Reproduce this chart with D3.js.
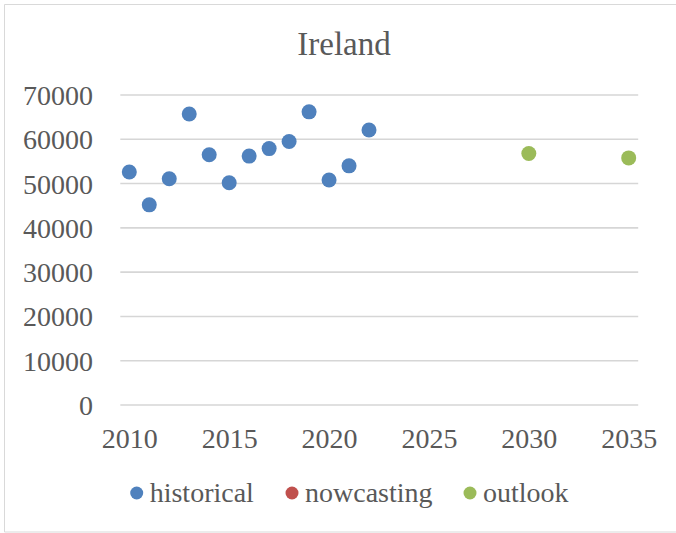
<!DOCTYPE html>
<html>
<head>
<meta charset="utf-8">
<script src="https://cdn.jsdelivr.net/npm/d3@7"></script>
<style>
  html, body { margin: 0; padding: 0; background: #fff; }
  svg { display: block; }
  text { font-family: "Liberation Serif", "DejaVu Serif", serif; fill: #595959; }
</style>
</head>
<body>
<svg id="chart" width="676" height="533"></svg>
<script>
const title = "Ireland";
const historicalYears = [2010, 2011, 2012, 2013, 2014, 2015, 2016, 2017, 2018, 2019, 2020, 2021, 2022];
const historicalValues = [52600, 45200, 51100, 65700, 56500, 50200, 56200, 57900, 59500, 66200, 50800, 54000, 62100];
const nowcastingYears = [];
const nowcastingValues = [];
const outlookYears = [2030, 2035];
const outlookValues = [56800, 55800];
const xTicks = [2010, 2015, 2020, 2025, 2030, 2035];
const yTicks = [0, 10000, 20000, 30000, 40000, 50000, 60000, 70000];
const seriesNames = ["historical", "nowcasting", "outlook"];
const seriesColors = ["#4f81bd", "#c0504d", "#9bbb59"];

const svg = d3.select("#chart");

// chart border (no right edge visible)
svg.append("path")
  .attr("d", "M680,4.5 H4.5 V532 H680")
  .attr("fill", "none")
  .attr("stroke", "#d9d9d9")
  .attr("stroke-width", 1);

const x = d3.scaleLinear().domain([2010, 2035]).range([129.3, 628.7]);
const y = d3.scaleLinear().domain([0, 70000]).range([405, 95]);
const xMin = 2009.55, xMax = 2035.475;

// title
svg.append("text")
  .attr("x", 344).attr("y", 55)
  .attr("text-anchor", "middle")
  .style("font-size", "33px")
  .text(title);

// gridlines
svg.append("g").selectAll("line").data(yTicks).join("line")
  .attr("x1", x(xMin)).attr("x2", x(xMax))
  .attr("y1", d => y(d)).attr("y2", d => y(d))
  .attr("stroke", "#d6d6d6").attr("stroke-width", 1.6);

// y axis labels
const yAxis = d3.axisLeft(y).tickValues(yTicks).tickSize(0).tickPadding(0).tickFormat(d3.format("d"));
const gy = svg.append("g").attr("transform", "translate(93,0)").call(yAxis);
gy.select(".domain").remove();
gy.selectAll("text").style("font-size", "28px").style("font-family", null).attr("fill", "#595959").attr("dy", "0.34em");

// x axis labels
const xAxis = d3.axisBottom(x).tickValues(xTicks).tickSize(0).tickPadding(0).tickFormat(d3.format("d"));
const gx = svg.append("g").attr("transform", "translate(0,448)").call(xAxis);
gx.select(".domain").remove();
gx.selectAll("text").style("font-size", "28px").style("font-family", null).attr("fill", "#595959").attr("dy", "0");

// points
function drawSeries(years, values, color) {
  svg.append("g").selectAll("circle").data(years.map((yr, i) => [yr, values[i]])).join("circle")
    .attr("cx", d => x(d[0])).attr("cy", d => y(d[1]))
    .attr("r", 7.5)
    .attr("fill", color);
}
drawSeries(historicalYears, historicalValues, seriesColors[0]);
drawSeries(nowcastingYears, nowcastingValues, seriesColors[1]);
drawSeries(outlookYears, outlookValues, seriesColors[2]);

// legend
const legendX = [136.7, 292, 470];
const lg = svg.append("g");
seriesNames.forEach((name, i) => {
  lg.append("circle").attr("cx", legendX[i]).attr("cy", 493).attr("r", 6.5).attr("fill", seriesColors[i]);
  lg.append("text").attr("x", legendX[i] + 13).attr("y", 502)
    .style("font-size", "28px").text(name);
});
</script>
</body>
</html>
